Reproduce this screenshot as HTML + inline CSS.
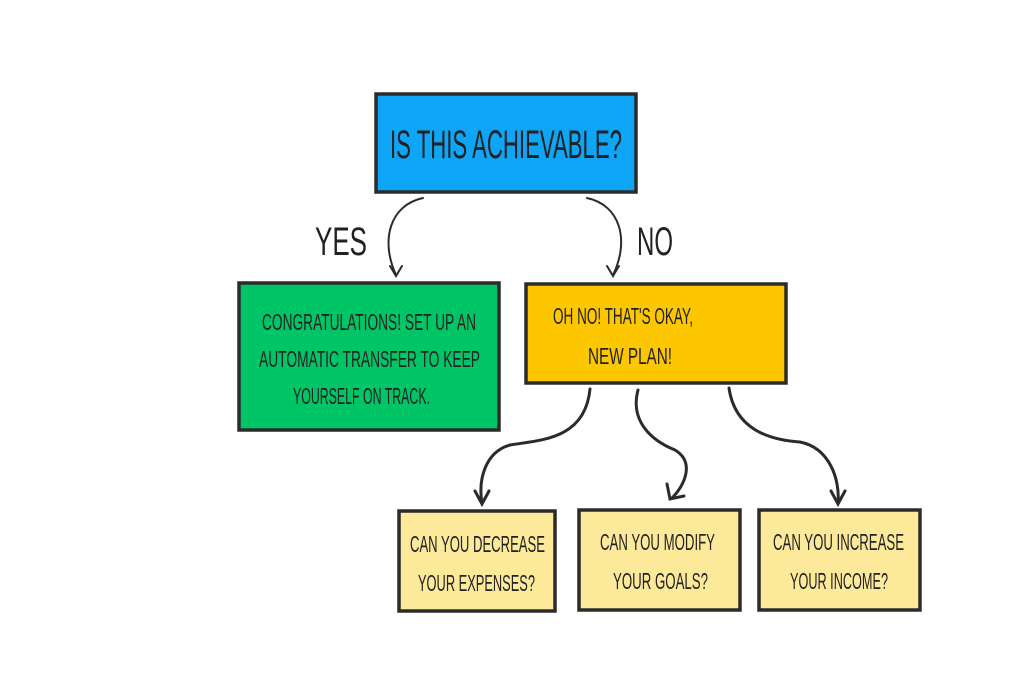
<!DOCTYPE html>
<html><head><style>
html,body{margin:0;padding:0;background:#fff;}
svg{display:block}
text{font-family:"Liberation Sans",sans-serif;fill:#222;}
</style></head><body>
<svg width="1024" height="683" viewBox="0 0 1024 683" xmlns="http://www.w3.org/2000/svg">
<rect width="1024" height="683" fill="#fff"/>
<g stroke="#2b2b2b" stroke-width="3.5">
<rect x="376" y="94" width="260" height="98" fill="#0ea5f7"/>
<rect x="239" y="283" width="260" height="147" fill="#00c566"/>
<rect x="526" y="284" width="260" height="99" fill="#fdc700"/>
<rect x="399" y="511" width="156" height="100" fill="#fde99a"/>
<rect x="579" y="510" width="161" height="100" fill="#fde99a"/>
<rect x="759" y="510" width="161" height="100" fill="#fde99a"/>
</g>
<g fill="none" stroke="#2b2b2b" stroke-width="2" stroke-linecap="round">
<path d="M423 198 C390 205 380 240 396 275"/><path d="M390 266 L396 276 L402 266"/>
<path d="M587 198 C620 205 630 240 613 275"/><path d="M607 266 L613 276 L619 266"/>
</g>
<g fill="none" stroke="#2b2b2b" stroke-width="3" stroke-linecap="round">
<path d="M590 389 C585 440 540 440 510 445 C485 452 478 480 482 503"/><path d="M475 491 L482 504 L489 491"/>
<path d="M638 390 C630 420 650 440 675 450 C695 462 685 485 672 498"/><path d="M667 484 L670 499 L684 496"/>
<path d="M729 388 C735 430 770 440 800 442 C830 448 840 480 838 503"/><path d="M831 491 L838 504 L845 491"/>
</g>
<g font-size="40">
<text x="390" y="158" textLength="232" lengthAdjust="spacingAndGlyphs">IS THIS ACHIEVABLE?</text>
<text x="315" y="255" textLength="52" lengthAdjust="spacingAndGlyphs">YES</text>
<text x="637" y="255" textLength="36" lengthAdjust="spacingAndGlyphs">NO</text>
</g>
<g font-size="23">
<text x="262" y="330" textLength="214" lengthAdjust="spacingAndGlyphs">CONGRATULATIONS! SET UP AN</text>
<text x="259" y="367" textLength="221" lengthAdjust="spacingAndGlyphs">AUTOMATIC TRANSFER TO KEEP</text>
<text x="293" y="404" textLength="137" lengthAdjust="spacingAndGlyphs">YOURSELF ON TRACK.</text>
<text x="553" y="324" textLength="140" lengthAdjust="spacingAndGlyphs">OH NO! THAT'S OKAY,</text>
<text x="588" y="364" textLength="84" lengthAdjust="spacingAndGlyphs">NEW PLAN!</text>
<text x="410" y="552" textLength="135" lengthAdjust="spacingAndGlyphs">CAN YOU DECREASE</text>
<text x="418" y="591" textLength="117" lengthAdjust="spacingAndGlyphs">YOUR EXPENSES?</text>
<text x="600" y="550" textLength="115" lengthAdjust="spacingAndGlyphs">CAN YOU MODIFY</text>
<text x="613" y="589" textLength="95" lengthAdjust="spacingAndGlyphs">YOUR GOALS?</text>
<text x="773" y="550" textLength="131" lengthAdjust="spacingAndGlyphs">CAN YOU INCREASE</text>
<text x="790" y="589" textLength="98" lengthAdjust="spacingAndGlyphs">YOUR INCOME?</text>
</g>
</svg>
</body></html>
